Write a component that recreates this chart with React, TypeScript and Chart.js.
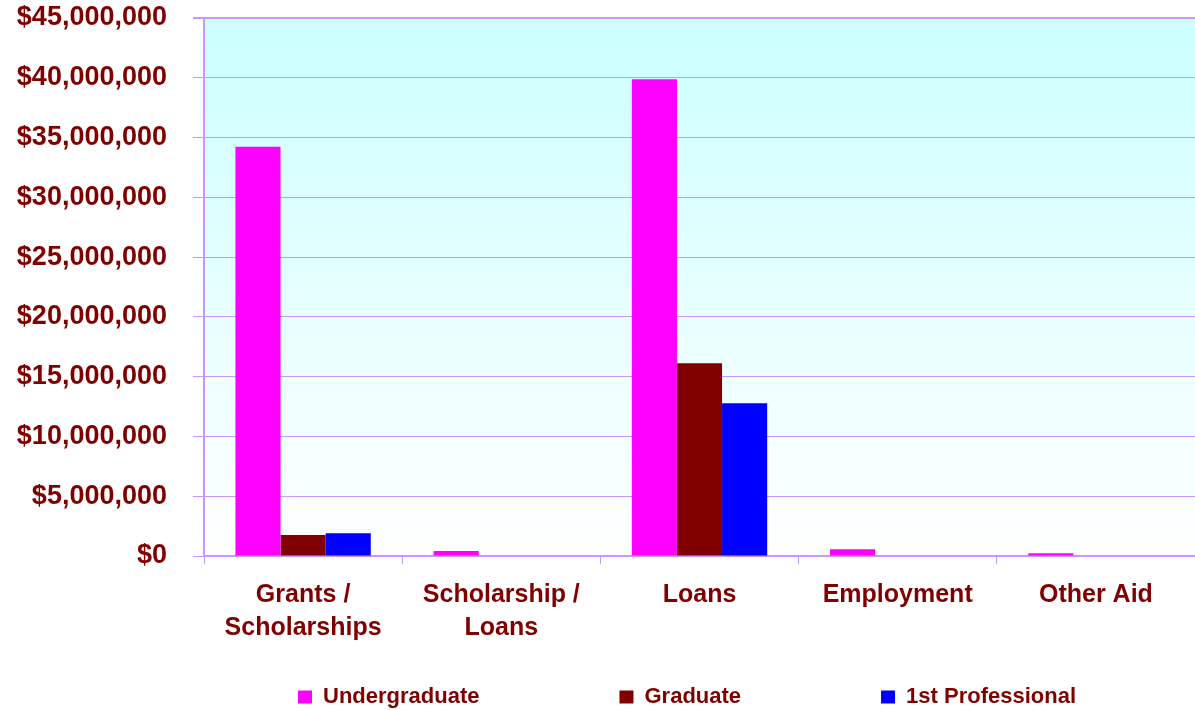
import React, { useEffect, useRef } from "react";
import { Chart, registerables } from "chart.js";

Chart.register(...registerables);

const categories: string[][] = [
  ["Grants /", "Scholarships"],
  ["Scholarship /", "Loans"],
  ["Loans"],
  ["Employment"],
  ["Other Aid"],
];
const seriesNames = ["Undergraduate", "Graduate", "1st Professional"];
const undergraduate = [34240000, 420000, 39880000, 560000, 230000];
const graduate = [1760000, 0, 16120000, 0, 0];
const firstProfessional = [1900000, 0, 12770000, 0, 0];
const seriesColors = ["#FF00FF", "#800000", "#0000FF"];
const yMax = 45000000;
const yStep = 5000000;

const FONT = "'Liberation Sans', Arial, Helvetica, sans-serif";
const TEXT = "#800000";
const GRID = "#C896FF";

const bgPlugin = {
  id: "plotBg",
  beforeDraw(chart: any) {
    const { ctx, chartArea } = chart;
    if (!chartArea) return;
    const g = ctx.createLinearGradient(0, chartArea.top, 0, chartArea.bottom);
    g.addColorStop(0, "#CCFFFF");
    g.addColorStop(1, "#FFFFFF");
    ctx.save();
    ctx.fillStyle = g;
    ctx.fillRect(chartArea.left, chartArea.top, chartArea.right - chartArea.left, chartArea.bottom - chartArea.top);
    ctx.restore();
  },
};

const legendPlace = {
  id: "legendPlace",
  afterLayout(chart: any) {
    const lg = chart.legend;
    if (!lg) return;
    const pad = lg.options.labels.padding;
    lg.left = 298 - pad;
    lg.right = lg.left + 3000;
    lg.top = 697 - 11 - pad;
  },
};

export default function App() {
  const ref = useRef<HTMLCanvasElement>(null);
  useEffect(() => {
    if (!ref.current) return;
    const chart = new Chart(ref.current, {
      type: "bar",
      data: {
        labels: categories,
        datasets: [undergraduate, graduate, firstProfessional].map((d, i) => ({
          label: seriesNames[i],
          data: d,
          backgroundColor: seriesColors[i],
          borderWidth: 0,
          categoryPercentage: 0.683,
          barPercentage: 1,
        })),
      },
      options: {
        animation: false,
        responsive: false,
        layout: { padding: { top: 18, right: -4, left: 0, bottom: 0 } },
        plugins: {
          tooltip: { enabled: false },
          legend: {
            position: "bottom",
            align: "start",
            maxHeight: 44,
            labels: {
              padding: 140,
              boxWidth: 14,
              boxHeight: 13,
              color: TEXT,
              font: { family: FONT, size: 22, weight: "bold" },
            },
          },
        },
        scales: {
          x: {
            grid: {
              display: true,
              drawOnChartArea: false,
              drawTicks: true,
              tickLength: 8,
              color: GRID,
              lineWidth: 1,
              offset: true,
            },
            border: { display: true, color: GRID, width: 2 },
            ticks: {
              color: TEXT,
              padding: 15,
              maxRotation: 0,
              autoSkip: false,
              font: { family: FONT, size: 25, weight: "bold", lineHeight: 1.32 },
            },
            afterFit(s: any) {
              s.height = 110;
            },
          },
          y: {
            min: 0,
            max: yMax,
            grid: {
              color: GRID,
              lineWidth: (c: any) => (c.tick && c.tick.value === yMax ? 2 : 1),
              drawTicks: true,
              tickLength: 11,
            },
            border: { display: true, color: GRID, width: 2 },
            ticks: {
              stepSize: yStep,
              color: TEXT,
              padding: 26,
              font: { family: FONT, size: 27, weight: "bold" },
              callback: (v: any) => "$" + Number(v).toLocaleString("en-US"),
            },
            afterFit(s: any) {
              s.width = 204;
              s.paddingTop = 16;
              s.paddingBottom = 16;
            },
          },
        },
      },
      plugins: [bgPlugin, legendPlace],
    });
    return () => chart.destroy();
  }, []);
  return (
    <div style={{ position: "absolute", left: 0, top: 0, width: 1195, height: 710, background: "#fff" }}>
      <canvas ref={ref} width={1195} height={710} style={{ display: "block" }} />
    </div>
  );
}
